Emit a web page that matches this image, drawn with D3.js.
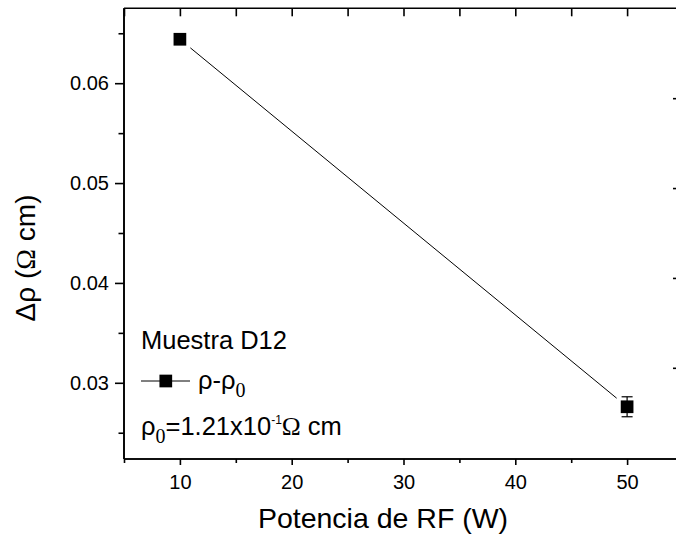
<!DOCTYPE html>
<html><head><meta charset="utf-8">
<script src="https://cdn.jsdelivr.net/npm/d3@7"></script>
<style>
html,body{margin:0;padding:0;background:#fff;overflow:hidden}
svg{display:block;font-family:Arial,"Liberation Sans",sans-serif}
</style></head>
<body>
<svg id="c" width="676" height="535"></svg>
<script>
const powers = [10, 50];
const deltaRho = [0.0644, 0.0276];
const errors = [0, 0.001];
const xMajor = [10, 20, 30, 40, 50];
const xMinor = [5, 15, 25, 35, 45, 55];
const yMajor = [0.03, 0.04, 0.05, 0.06];
const yMinor = [0.025, 0.035, 0.045, 0.055, 0.065];
const rightTicks = [0.0585, 0.0495, 0.0405, 0.0315];
const xDomain = [5, 55];
const yDomain = [0.02237, 0.0675];

const serif = "'Liberation Serif', 'Times New Roman', serif";
const svg = d3.select("#c");
const L = 124, R = 683, T = 8.3, B = 459;
const x = d3.scaleLinear().domain(xDomain).range([L, R]);
const y = d3.scaleLinear().domain(yDomain).range([B, T]);
const axW = 1.6;

// bottom axis
const gb = svg.append("g").attr("transform", `translate(0,${B})`);
gb.call(d3.axisBottom(x).tickValues(xMajor).tickSize(6).tickPadding(10).tickFormat(d3.format("d")));
gb.append("g").call(d3.axisBottom(x).tickValues(xMinor).tickSize(4).tickFormat(""));
// top axis
const gt = svg.append("g").attr("transform", `translate(0,${T})`);
gt.call(d3.axisBottom(x).tickValues(xMajor.concat(xMinor)).tickSize(8).tickFormat(""));
// left axis
const gl = svg.append("g").attr("transform", `translate(${L},0)`);
gl.call(d3.axisLeft(y).tickValues(yMajor).tickSize(9).tickPadding(6).tickFormat(d3.format(".2f")));
gl.append("g").call(d3.axisLeft(y).tickValues(yMinor).tickSize(5.5).tickFormat(""));
// right axis (spine lies just outside the canvas)
const gr = svg.append("g").attr("transform", `translate(${R},0)`);
gr.call(d3.axisRight(y).tickValues(rightTicks).tickSize(-10).tickFormat(""));

svg.selectAll(".domain").attr("stroke", "#000").attr("stroke-width", axW);
svg.selectAll(".tick line").attr("stroke", "#000").attr("stroke-width", axW);
svg.selectAll(".tick text").attr("fill", "#000").attr("font-size", "20px").attr("font-family", "Arial, 'Liberation Sans', sans-serif");
gb.selectAll(".domain").attr("d", `M${L},0H${R}`);
gt.selectAll(".domain").attr("d", `M${L},0H${R}`);
gl.selectAll(".domain").attr("d", `M0,${T}V${B}`);
gr.selectAll(".domain").attr("d", `M0,${T}V${B}`);

// connecting line with gaps around markers
const pts = powers.map((p, i) => [x(p), y(deltaRho[i])]);
const gap = 13.5;
for (let i = 0; i < pts.length - 1; i++) {
  const [x0, y0] = pts[i], [x1, y1] = pts[i + 1];
  const len = Math.hypot(x1 - x0, y1 - y0);
  const ux = (x1 - x0) / len, uy = (y1 - y0) / len;
  svg.append("line")
    .attr("x1", x0 + ux * gap).attr("y1", y0 + uy * gap)
    .attr("x2", x1 - ux * gap).attr("y2", y1 - uy * gap)
    .attr("stroke", "#000").attr("stroke-width", 1);
}
// error bars
const eg = svg.append("g");
powers.forEach((p, i) => {
  if (!errors[i]) return;
  const cx = x(p), yt = y(deltaRho[i] + errors[i]), yb = y(deltaRho[i] - errors[i]);
  eg.append("line").attr("x1", cx).attr("x2", cx).attr("y1", yt).attr("y2", yb).attr("stroke", "#000").attr("stroke-width", 1.2);
  eg.append("line").attr("x1", cx - 5.5).attr("x2", cx + 5.5).attr("y1", yt).attr("y2", yt).attr("stroke", "#000").attr("stroke-width", 1.2);
  eg.append("line").attr("x1", cx - 5.5).attr("x2", cx + 5.5).attr("y1", yb).attr("y2", yb).attr("stroke", "#000").attr("stroke-width", 1.2);
});
// markers
const ms = 12.7;
svg.append("g").selectAll("rect").data(powers).join("rect")
  .attr("x", (d) => x(d) - ms / 2)
  .attr("y", (d, i) => y(deltaRho[i]) - ms / 2)
  .attr("width", ms).attr("height", ms).attr("fill", "#000");

// axis titles
svg.append("text").attr("x", 383).attr("y", 528).attr("text-anchor", "middle")
  .attr("font-size", "28.5px").attr("fill", "#000").text("Potencia de RF (W)");
const yt = svg.append("text").attr("transform", "translate(35,258) rotate(-90)").attr("text-anchor", "middle")
  .attr("font-size", "28px").attr("fill", "#000");
yt.append("tspan").text("Δρ (");
yt.append("tspan").attr("font-family", serif).text("Ω");
yt.append("tspan").text(" cm)");

// legend
const lf = "25.5px";
svg.append("text").attr("x", 141).attr("y", 348.5).attr("font-size", lf).attr("fill", "#000").text("Muestra D12");
svg.append("line").attr("x1", 141).attr("x2", 190).attr("y1", 381).attr("y2", 381).attr("stroke", "#000").attr("stroke-width", 1);
svg.append("rect").attr("x", 165.8 - ms / 2).attr("y", 381 - ms / 2).attr("width", ms).attr("height", ms).attr("fill", "#000");
const t2 = svg.append("text").attr("x", 198).attr("y", 389).attr("font-size", lf).attr("fill", "#000");
t2.append("tspan").text("ρ-ρ");
t2.append("tspan").attr("dy", 8).attr("font-size", "20px").attr("font-family", serif).text("0");
const t3 = svg.append("text").attr("x", 141).attr("y", 435).attr("font-size", lf).attr("fill", "#000");
t3.append("tspan").text("ρ");
t3.append("tspan").attr("dy", 8).attr("font-size", "20px").attr("font-family", serif).text("0");
t3.append("tspan").attr("dy", -8).text("=1.21x10");
t3.append("tspan").attr("dy", -11).attr("font-size", "12px").text("-1");
t3.append("tspan").attr("dy", 11).attr("font-family", serif).text("Ω");
t3.append("tspan").text(" cm");
</script>
</body></html>
